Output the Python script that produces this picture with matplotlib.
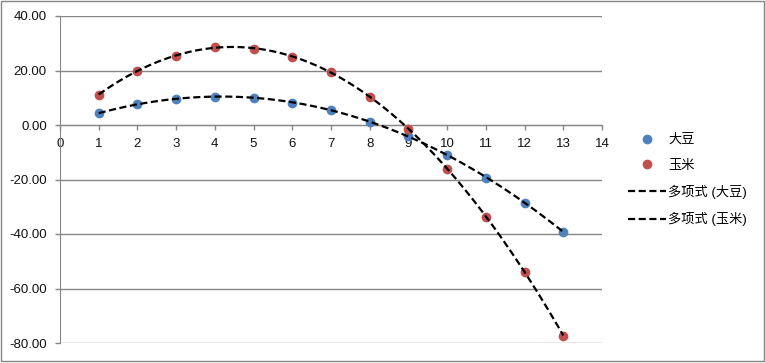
import numpy as np
import matplotlib
matplotlib.use('Agg')
import matplotlib.pyplot as plt
from matplotlib.patches import Rectangle

plt.rcParams['font.family'] = ['Liberation Sans', 'Noto Sans CJK SC', 'DejaVu Sans']

x = [1, 2, 3, 4, 5, 6, 7, 8, 9, 10, 11, 12, 13]
soy = [4.3, 7.6, 9.7, 10.4, 10.0, 8.2, 5.4, 1.2, -4.0, -11.0, -19.3, -28.5, -39.2]
corn = [11.1, 20.0, 25.5, 28.5, 28.0, 25.1, 19.3, 10.4, -1.3, -16.1, -33.6, -53.8, -77.3]
names = ['大豆', '玉米']
trend_names = ['多项式 (大豆)', '多项式 (玉米)']
colors = ['#4F81BD', '#C0504D']
grid_c = '#868686'

fig = plt.figure(figsize=(7.65, 3.63), dpi=100)
ax = fig.add_axes([60/765, 1-343/363, 542/765, 327/363])

for vals, name, c in zip([soy, corn], names, colors):
    ax.plot(x, vals, 'o', color=c, markersize=6, label=name, zorder=3)

xs = np.linspace(x[0], x[-1], 200)
for vals, name in zip([soy, corn], trend_names):
    coef = np.polyfit(x, vals, 3)
    ax.plot(xs, np.polyval(coef, xs), color='black', lw=1.6, ls=(0, (3.2, 1.6)),
            label=name, zorder=4)

ax.set_xlim(0, 14)
ax.set_ylim(-80, 40)
ax.set_xticks(range(0, 15))
ax.set_yticks(range(-80, 41, 20))
ax.set_yticklabels(['%.2f' % v for v in range(-80, 41, 20)])
ax.yaxis.grid(True, color=grid_c, lw=1)
ax.set_axisbelow(True)

for s in ['top', 'right']:
    ax.spines[s].set_visible(False)
ax.spines['bottom'].set_position(('data', 0))
ax.spines['bottom'].set_color(grid_c)
ax.spines['left'].set_color(grid_c)
ax.tick_params(axis='both', colors=grid_c, labelcolor='#111111', labelsize=9.5,
               direction='out', length=3.5, width=1)
ax.tick_params(axis='x', pad=6)
ax.tick_params(axis='y', pad=6)

ax.legend(loc='center left', bbox_to_anchor=(628/765, 1-180/363), bbox_transform=fig.transFigure,
          frameon=False, fontsize=9.5, numpoints=1, handlelength=2.9, handletextpad=0.15,
          labelspacing=1.0, borderpad=0, borderaxespad=0)

fig.patches.append(Rectangle((0.5/765, 2/363), 763/765, 360/363, transform=fig.transFigure,
                             fill=False, edgecolor=grid_c, lw=1))

fig.savefig('out.png', dpi=100)
